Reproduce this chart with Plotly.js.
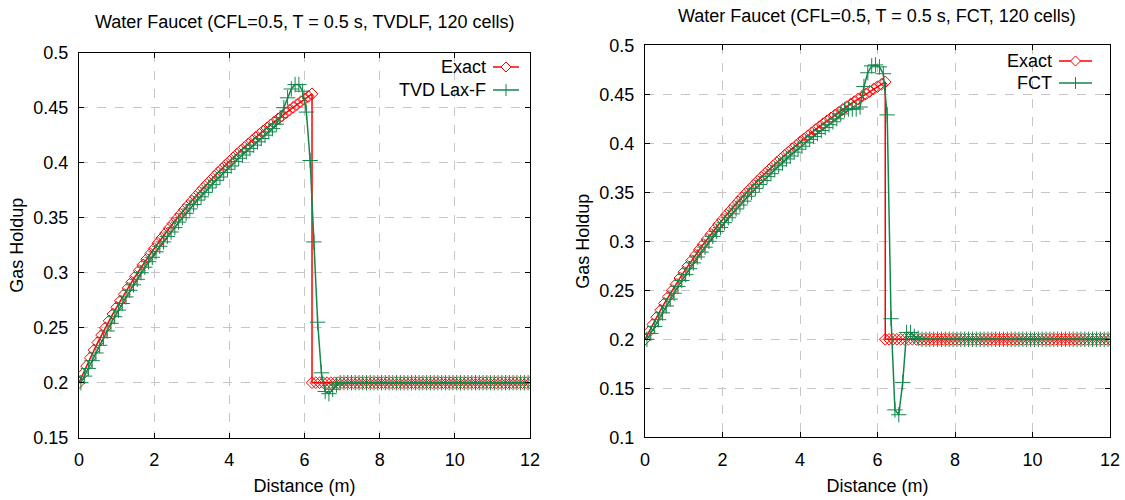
<!DOCTYPE html>
<html><head><meta charset="utf-8">
<script src="https://cdn.plot.ly/plotly-3.0.1.min.js"></script>
<style>html,body{margin:0;padding:0;background:#fff}#chart{width:1125px;height:500px}</style>
</head><body><div id="chart"></div>
<script>
// Exact solution sampled on x = 0..6.2 (step 0.1), jump at the shock, then flat to 12
const exactX = [0,0.1,0.2,0.3,0.4,0.5,0.6,0.7,0.8,0.9,1.0,1.1,1.2,1.3,1.4,1.5,1.6,1.7,1.8,1.9,2.0,2.1,2.2,2.3,2.4,2.5,2.6,2.7,2.8,2.9,3.0,3.1,3.2,3.3,3.4,3.5,3.6,3.7,3.8,3.9,4.0,4.1,4.2,4.3,4.4,4.5,4.6,4.7,4.8,4.9,5.0,5.1,5.2,5.3,5.4,5.5,5.6,5.7,5.8,5.9,6.0,6.1,6.2,
  6.2,6.3,6.4,6.5,6.6,6.7,6.8,6.9,7.0,7.1,7.2,7.3,7.4,7.5,7.6,7.7,7.8,7.9,8.0,8.1,8.2,8.3,8.4,8.5,8.6,8.7,8.8,8.9,9.0,9.1,9.2,9.3,9.4,9.5,9.6,9.7,9.8,9.9,10.0,10.1,10.2,10.3,10.4,10.5,10.6,10.7,10.8,10.9,11.0,11.1,11.2,11.3,11.4,11.5,11.6,11.7,11.8,11.9,12.0];
const exactY = [0.2,0.2077,0.2152,0.2226,0.2297,0.2366,0.2433,0.2499,0.2562,0.2625,0.2685,0.2745,0.2803,0.2859,0.2914,0.2968,0.3021,0.3072,0.3123,0.3172,0.3220,0.3268,0.3314,0.3359,0.3404,0.3447,0.3490,0.3532,0.3573,0.3613,0.3653,0.3692,0.3730,0.3767,0.3804,0.3840,0.3876,0.3911,0.3945,0.3979,0.4012,0.4044,0.4077,0.4108,0.4139,0.4170,0.4200,0.4230,0.4259,0.4288,0.4316,0.4344,0.4372,0.4399,0.4425,0.4452,0.4478,0.4503,0.4529,0.4554,0.4578,0.4602,0.4626,
  0.2,0.2,0.2,0.2,0.2,0.2,0.2,0.2,0.2,0.2,0.2,0.2,0.2,0.2,0.2,0.2,0.2,0.2,0.2,0.2,0.2,0.2,0.2,0.2,0.2,0.2,0.2,0.2,0.2,0.2,0.2,0.2,0.2,0.2,0.2,0.2,0.2,0.2,0.2,0.2,0.2,0.2,0.2,0.2,0.2,0.2,0.2,0.2,0.2,0.2,0.2,0.2,0.2,0.2,0.2,0.2,0.2,0.2,0.2];

// Cell centres (120 cells)
const cellX = [0.05,0.15,0.25,0.35,0.45,0.55,0.65,0.75,0.85,0.95,1.05,1.15,1.25,1.35,1.45,1.55,1.65,1.75,1.85,1.95,2.05,2.15,2.25,2.35,2.45,2.55,2.65,2.75,2.85,2.95,3.05,3.15,3.25,3.35,3.45,3.55,3.65,3.75,3.85,3.95,4.05,4.15,4.25,4.35,4.45,4.55,4.65,4.75,4.85,4.95,5.05,5.15,5.25,5.35,5.45,5.55,5.65,5.75,5.85,5.95,6.05,6.15,6.25,6.35,6.45,6.55,6.65,6.75,6.85,6.95,7.05,7.15,7.25,7.35,7.45,7.55,7.65,7.75,7.85,7.95,8.05,8.15,8.25,8.35,8.45,8.55,8.65,8.75,8.85,8.95,9.05,9.15,9.25,9.35,9.45,9.55,9.65,9.75,9.85,9.95,10.05,10.15,10.25,10.35,10.45,10.55,10.65,10.75,10.85,10.95,11.05,11.15,11.25,11.35,11.45,11.55,11.65,11.75,11.85,11.95];

const tvdY = [0.200,0.206,0.213,0.220,0.227,0.234,0.241,0.247,0.254,0.260,0.266,0.272,0.278,0.284,0.289,0.294,0.300,0.305,0.310,0.314,0.319,0.324,0.328,0.333,0.337,0.341,0.346,0.350,0.354,0.358,0.362,0.366,0.369,0.373,0.377,0.380,0.384,0.387,0.391,0.394,0.397,0.401,0.404,0.407,0.410,0.413,0.416,0.419,0.422,0.425,0.428,0.431,0.435,0.441,0.450,0.459,0.467,0.471,0.471,0.465,0.446,0.402,0.328,0.255,0.209,0.192,0.190,0.194,0.198,0.200,
  0.2,0.2,0.2,0.2,0.2,0.2,0.2,0.2,0.2,0.2,0.2,0.2,0.2,0.2,0.2,0.2,0.2,0.2,0.2,0.2,0.2,0.2,0.2,0.2,0.2,0.2,0.2,0.2,0.2,0.2,0.2,0.2,0.2,0.2,0.2,0.2,0.2,0.2,0.2,0.2,0.2,0.2,0.2,0.2,0.2,0.2,0.2,0.2,0.2,0.2];

const fctY = [0.200,0.206,0.213,0.220,0.227,0.234,0.241,0.247,0.254,0.260,0.266,0.272,0.278,0.284,0.289,0.294,0.300,0.305,0.310,0.314,0.319,0.324,0.328,0.333,0.337,0.341,0.346,0.350,0.354,0.358,0.362,0.366,0.369,0.373,0.377,0.380,0.384,0.387,0.391,0.394,0.397,0.401,0.404,0.407,0.410,0.413,0.416,0.419,0.422,0.425,0.430,0.434,0.435,0.435,0.435,0.437,0.458,0.472,0.479,0.480,0.478,0.471,0.429,0.221,0.128,0.123,0.156,0.207,0.207,0.203,0.201,
  0.2,0.2,0.2,0.2,0.2,0.2,0.2,0.2,0.2,0.2,0.2,0.2,0.2,0.2,0.2,0.2,0.2,0.2,0.2,0.2,0.2,0.2,0.2,0.2,0.2,0.2,0.2,0.2,0.2,0.2,0.2,0.2,0.2,0.2,0.2,0.2,0.2,0.2,0.2,0.2,0.2,0.2,0.2,0.2,0.2,0.2,0.2,0.2,0.2];

const leftTitle = "Water Faucet (CFL=0.5, T = 0.5 s, TVDLF, 120 cells)";
const rightTitle = "Water Faucet (CFL=0.5, T = 0.5 s, FCT, 120 cells)";
const xTitle = "Distance (m)";
const yTitle = "Gas Holdup";
const names = ["Exact", "TVD Lax-F", "FCT"];

const RED = "#ff0000", GREEN = "#13874b";
const FONT = "Liberation Sans, Arial, sans-serif";
const FS = 18;
const W = 1125, H = 500;
const px = v => v / W, py = v => 1 - v / H;

function exactTrace(xa, ya) {
  return {x: exactX, y: exactY, xaxis: xa, yaxis: ya, mode: "lines+markers", name: names[0], showlegend: false,
    line: {color: RED, width: 1.5},
    marker: {symbol: "diamond-open", size: 9, color: RED, line: {color: RED, width: 1}}};
}
function numTrace(yv, nm, xa, ya) {
  return {x: cellX, y: yv, xaxis: xa, yaxis: ya, mode: "lines+markers", name: nm, showlegend: false,
    line: {color: GREEN, width: 1.5},
    marker: {symbol: "cross-thin-open", size: 11, color: GREEN, line: {color: GREEN, width: 1}}};
}

const data = [
  exactTrace("x", "y"), numTrace(tvdY, names[1], "x", "y"),
  exactTrace("x2", "y2"), numTrace(fctY, names[2], "x2", "y2")
];

function xax(dom, anchor) {
  return {domain: dom, anchor: anchor, range: [0, 12], dtick: 2, tick0: 0,
    showline: true, mirror: "ticks", linecolor: "#000", linewidth: 1,
    ticks: "inside", ticklen: 5, tickcolor: "#000", ticklabelstandoff: 6,
    showgrid: true, gridcolor: "#c6c6c6", griddash: "dash", gridwidth: 1, zeroline: false,
    tickfont: {family: FONT, size: FS, color: "#000"},
    title: {text: xTitle, font: {family: FONT, size: FS, color: "#000"}, standoff: 10}};
}
function yax(dom, anchor, rng) {
  return {domain: dom, anchor: anchor, range: rng, dtick: 0.05, tick0: 0,
    showline: true, mirror: "ticks", linecolor: "#000", linewidth: 1,
    ticks: "inside", ticklen: 5, tickcolor: "#000", ticklabelstandoff: 6,
    showgrid: true, gridcolor: "#c6c6c6", griddash: "dash", gridwidth: 1, zeroline: false,
    tickfont: {family: FONT, size: FS, color: "#000"},
    title: {text: yTitle, font: {family: FONT, size: FS, color: "#000"}, standoff: 5}};
}

// legend built from annotations + shapes (symbol to the right of text, as in reference)
function legendEntry(textRight, yc, label, sym, color, x0, x1) {
  const ann = {xref: "paper", yref: "paper", x: px(textRight), y: py(yc), xanchor: "right", yanchor: "middle",
    text: label, showarrow: false, font: {family: FONT, size: FS, color: "#000"}};
  const shp = [{type: "line", xref: "paper", yref: "paper", x0: px(x0), x1: px(x1), y0: py(yc), y1: py(yc),
    line: {color: color, width: 1.5}}];
  const xm = (x0 + x1) / 2, s = 5;
  if (sym === "diamond") {
    shp.push({type: "path", xref: "paper", yref: "paper",
      path: `M ${px(xm - s)} ${py(yc)} L ${px(xm)} ${py(yc - s)} L ${px(xm + s)} ${py(yc)} L ${px(xm)} ${py(yc + s)} Z`,
      line: {color: color, width: 1}, fillcolor: "#fff"});
  } else {
    shp.push({type: "line", xref: "paper", yref: "paper", x0: px(xm), x1: px(xm), y0: py(yc - 6), y1: py(yc + 6),
      line: {color: color, width: 1}});
  }
  return {ann, shp};
}
const leg = [
  legendEntry(488, 67, names[0], "diamond", RED, 493, 519),
  legendEntry(488, 90, names[1], "plus", GREEN, 493, 519),
  legendEntry(1054, 61, names[0], "diamond", RED, 1059, 1092),
  legendEntry(1054, 83, names[2], "plus", GREEN, 1059, 1092)
];

const annotations = [
  {xref: "paper", yref: "paper", x: px(305), y: py(22), xanchor: "center", yanchor: "middle", showarrow: false,
   text: leftTitle, font: {family: FONT, size: FS, color: "#000"}},
  {xref: "paper", yref: "paper", x: px(877), y: py(16), xanchor: "center", yanchor: "middle", showarrow: false,
   text: rightTitle, font: {family: FONT, size: FS, color: "#000"}}
].concat(leg.map(e => e.ann));
const shapes = [].concat(...leg.map(e => e.shp));

const layout = {
  width: W, height: H, margin: {l: 0, r: 0, t: 0, b: 0},
  paper_bgcolor: "#fff", plot_bgcolor: "#fff", showlegend: false,
  font: {family: FONT, color: "#000"},
  xaxis: xax([79 / W, 530 / W], "y"),
  yaxis: yax([(H - 437.7) / H, (H - 52.7) / H], "x", [0.15, 0.5]),
  xaxis2: xax([645 / W, 1110 / W], "y2"),
  yaxis2: yax([(H - 437.3) / H, (H - 45.3) / H], "x2", [0.1, 0.5]),
  annotations: annotations, shapes: shapes
};

Plotly.newPlot("chart", data, layout, {displayModeBar: false, staticPlot: true});
</script>
</body></html>
